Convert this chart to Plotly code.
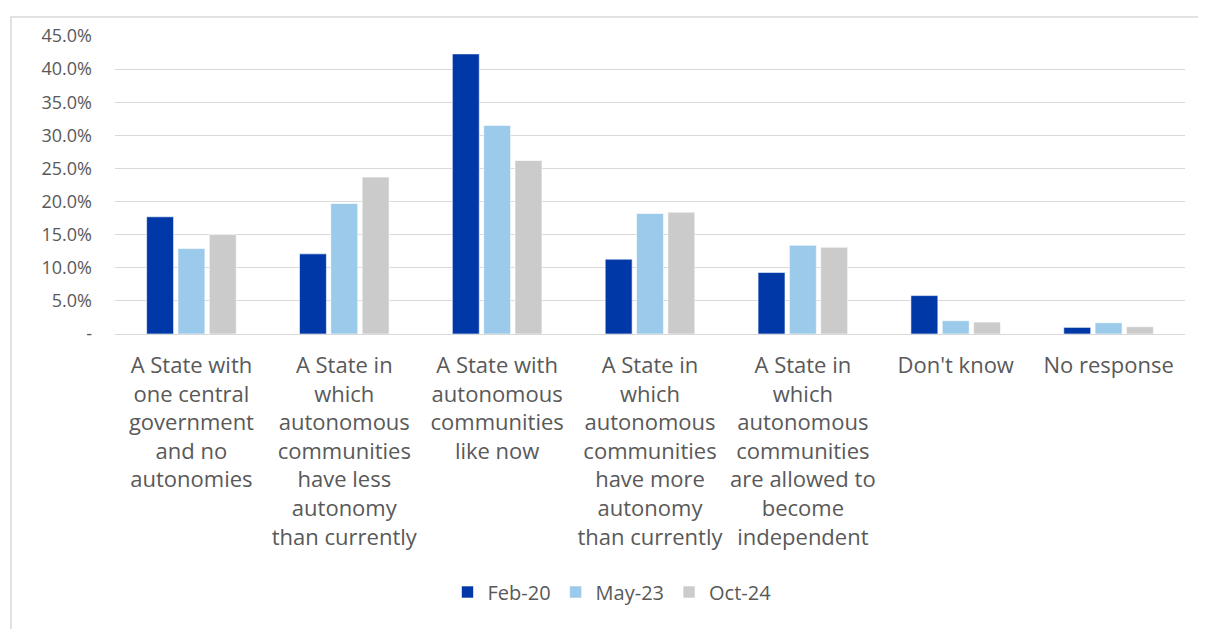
import plotly.graph_objects as go

categories = [
    "A State with<br>one central<br>government<br>and no<br>autonomies",
    "A State in<br>which<br>autonomous<br>communities<br>have less<br>autonomy<br>than currently",
    "A State with<br>autonomous<br>communities<br>like now",
    "A State in<br>which<br>autonomous<br>communities<br>have more<br>autonomy<br>than currently",
    "A State in<br>which<br>autonomous<br>communities<br>are allowed to<br>become<br>independent",
    "Don't know",
    "No response",
]
series_names = ["Feb-20", "May-23", "Oct-24"]
feb20 = [17.7, 12.1, 42.3, 11.3, 9.3, 5.8, 1.0]
may23 = [12.9, 19.7, 31.5, 18.2, 13.4, 2.0, 1.7]
oct24 = [15.0, 23.7, 26.2, 18.4, 13.1, 1.8, 1.1]
colors = ["#0038A8", "#9BCAEA", "#CBCBCB"]
y_tickvals = [0, 5, 10, 15, 20, 25, 30, 35, 40, 45]
y_ticktext = ["-", "5.0%", "10.0%", "15.0%", "20.0%", "25.0%", "30.0%", "35.0%", "40.0%", "45.0%"]

# page has an 8px body margin; figure placed to fill the rest of the window
OFF = 8
W, H = 1206 - OFF, 629 - OFF
L, R, T, B = 115 - OFF, 1206 - 1185, 36 - OFF, 629 - 334
pw, ph = W - L - R, H - T - B

def px_x(x):
    return (x - OFF - L) / pw

def px_y(y):
    return (H - B - (y - OFF)) / ph

fig = go.Figure()
for name, vals, col in zip(series_names, [feb20, may23, oct24], colors):
    fig.add_trace(go.Bar(
        name=name, x=list(range(len(categories))), y=vals,
        marker=dict(color=col, line=dict(color="white", width=0.6)),
    ))

font_family = "Open Sans, Liberation Sans, Arial, sans-serif"
fig.update_layout(
    width=W, height=H,
    margin=dict(l=L, r=R, t=T, b=B),
    paper_bgcolor="white", plot_bgcolor="white",
    barmode="group", bargap=0.385, bargroupgap=0.14,
    font=dict(family=font_family, color="#595959"),
    showlegend=True,
    legend=dict(orientation="h", x=px_x(612), xanchor="center",
                y=px_y(592), yanchor="middle",
                font=dict(size=20, color="#595959"),
                itemwidth=30, tracegroupgap=0),
    xaxis=dict(
        tickmode="array", tickvals=list(range(len(categories))), ticktext=categories,
        range=[-0.5, len(categories) - 0.5],
        tickfont=dict(size=22, color="#595959"),
        showgrid=False, showline=False, zeroline=False, ticks="",
        ticklabelstandoff=16,
    ),
    yaxis=dict(
        range=[0, 45], tickmode="array", tickvals=y_tickvals, ticktext=y_ticktext,
        tickfont=dict(size=18, color="#595959"),
        showgrid=True, gridcolor="#D9D9D9", gridwidth=1.3,
        zeroline=True, zerolinecolor="#D9D9D9", zerolinewidth=1.3,
        showline=False, ticks="", ticklabelstandoff=22,
    ),
    shapes=[dict(type="rect", xref="paper", yref="paper",
                 x0=px_x(11), x1=px_x(1215), y0=px_y(17), y1=px_y(640),
                 line=dict(color="#D9D9D9", width=1.5), layer="below")],
)

fig.write_html("out.html")
